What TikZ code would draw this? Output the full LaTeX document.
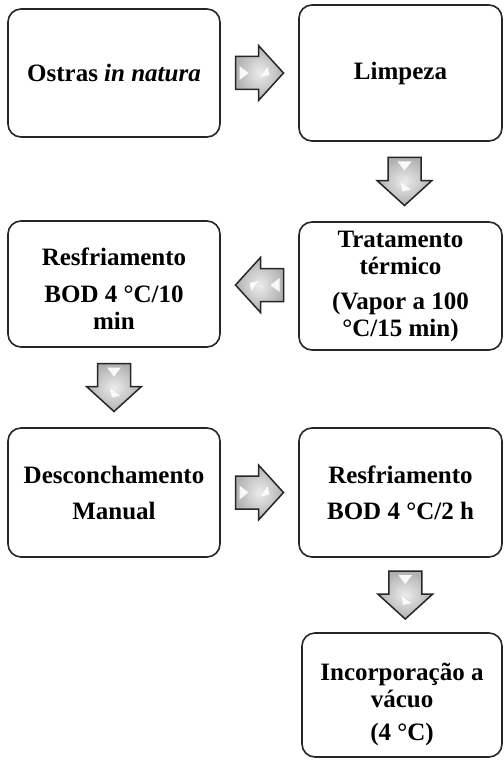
\documentclass[tikz,border=0pt]{standalone}
\usepackage{fontspec}
\setmainfont{Liberation Serif}
\usetikzlibrary{calc}
\begin{document}
\begin{tikzpicture}[x=1pt,y=-1pt,
  box/.style={draw=black!85, line width=1.6pt, rounded corners=13pt, align=center,
    font=\fontsize{25}{27}\selectfont\bfseries, inner sep=0pt},
  txt/.style={align=center, font=\fontsize{25}{27}\selectfont\bfseries, inner sep=0pt},
  blkarrow/.pic={
    \path[draw=black!85, line width=1.5pt, line join=miter, inner color=gray!15, outer color=gray!62]
      (-24,-16.5) -- (-1,-16.5) -- (-1,-27.5) -- (24,0) -- (-1,27.5) -- (-1,16.5) -- (-24,16.5) -- cycle;
    \fill[white, opacity=0.9] (-20,-7) -- (-11,0) -- (-20,7) -- cycle;
    \fill[white, opacity=0.9] (8,-6) -- (1,4) -- (10,2) -- cycle;
  }]
\useasboundingbox (0,0) rectangle (503,762);
\node[box, minimum width=212pt, minimum height=128pt] (b1) at (114,73) {Ostras \textit{in natura}};
\node[box, minimum width=203pt, minimum height=136pt] (b2) at (400.5,73) {Limpeza};
\node[box, minimum width=203pt, minimum height=128pt] (b3) at (400.5,286) {Tratamento\\térmico\\[8pt](Vapor a 100\\°C/15 min)};
\node[box, minimum width=212pt, minimum height=126pt] (b4) at (114,284) {};
\node[txt] (t4) at (114,289) {Resfriamento\\[10pt]BOD 4 °C/10\\min};
\node[box, minimum width=212pt, minimum height=129pt] (b5) at (114,492.5) {Desconchamento\\[9pt]Manual};
\node[box, minimum width=203pt, minimum height=129pt] (b6) at (400.5,492.5) {Resfriamento\\[9pt]BOD 4 °C/2 h};
\node[box, minimum width=200pt, minimum height=124pt] (b7) at (402,695) {};
\node[txt] (t7) at (402,704) {Incorporação a\\vácuo\\[6pt](4 °C)};
\pic at ($(b1.east)!0.5!(b2.west)$) {blkarrow};
\pic[rotate=-90] at ($(b2.south)!0.5!(b3.north)+(4,0)$) {blkarrow};
\pic[rotate=180] at ($(b3.west)!0.5!(b4.east)$) {blkarrow};
\pic[rotate=-90] at ($(b4.south)!0.5!(b5.north)$) {blkarrow};
\pic at ($(b5.east)!0.5!(b6.west)$) {blkarrow};
\pic[rotate=-90] at ($(b6.south)!0.5!(b7.north)+(4,0)$) {blkarrow};
\end{tikzpicture}
\end{document}
